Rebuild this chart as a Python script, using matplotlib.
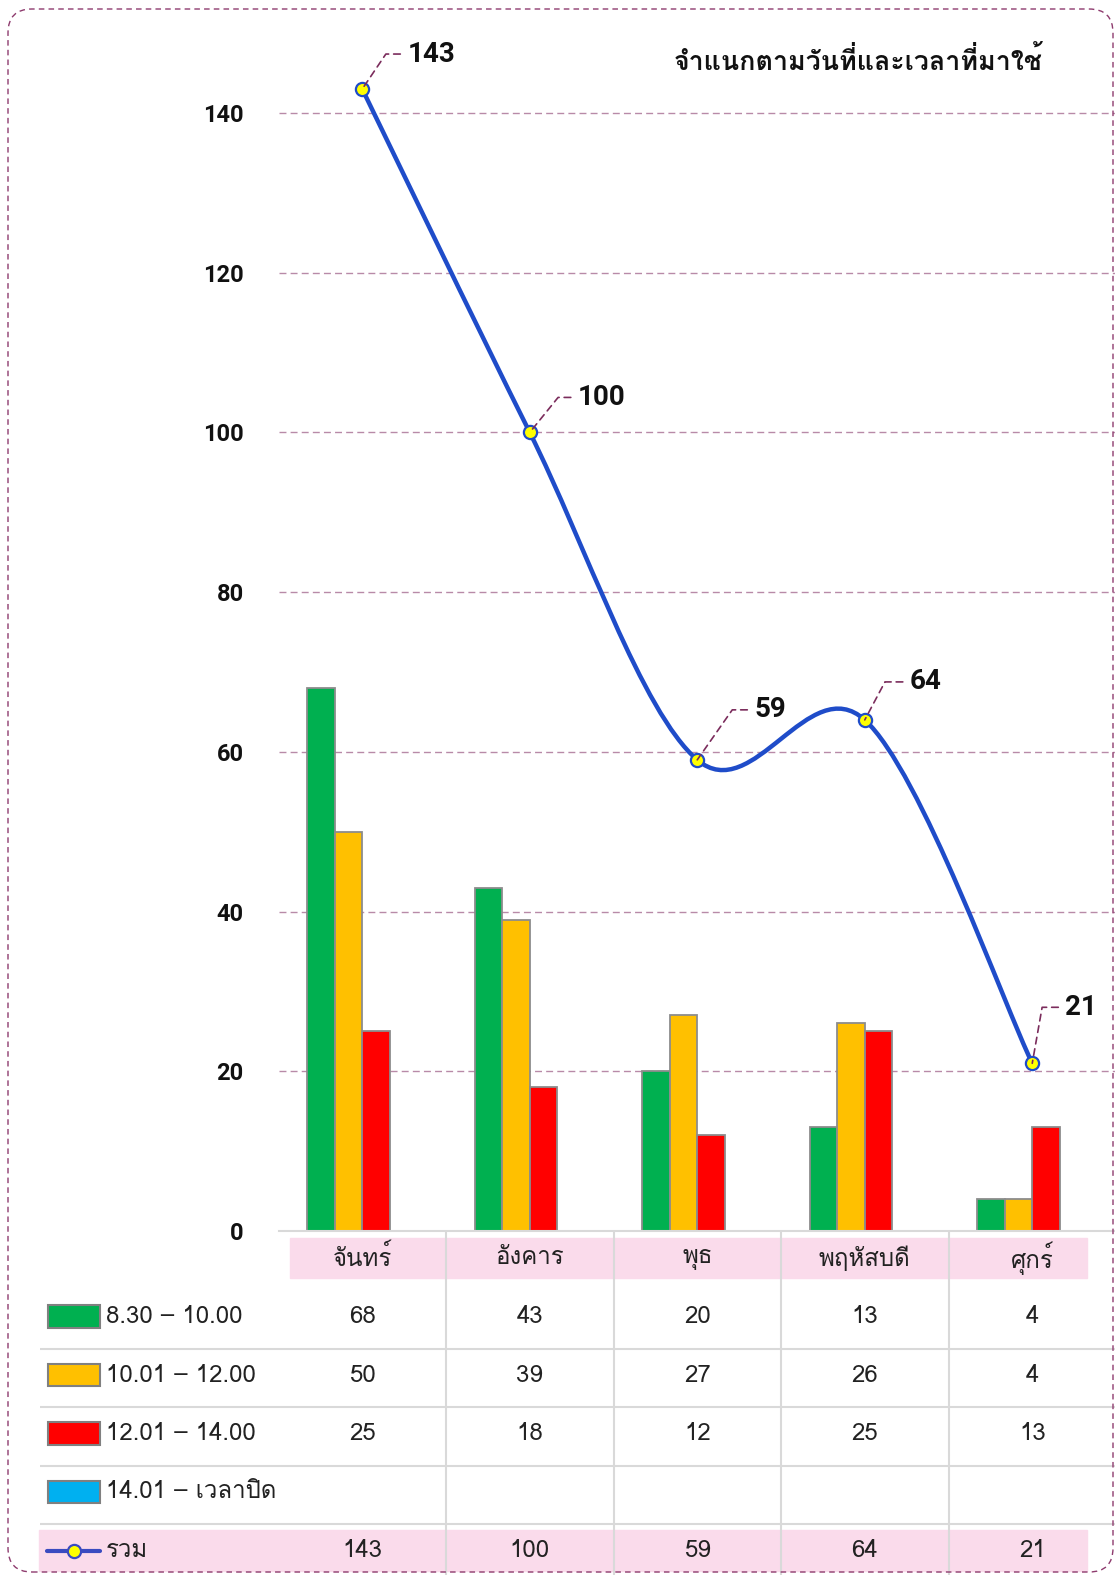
# usage by day and time slot, bar + smoothed total line with data table below
import numpy as np
import matplotlib
matplotlib.use('Agg')
import matplotlib.pyplot as plt
from matplotlib import font_manager
from matplotlib.ft2font import FT2Font
from matplotlib.path import Path
from matplotlib.patches import PathPatch, Rectangle, FancyBboxPatch
from matplotlib.transforms import IdentityTransform

# data
days = ['จันทร์', 'อังคาร', 'พุธ', 'พฤหัสบดี', 'ศุกร์']
slot_names = ['8.30 – 10.00', '10.01 – 12.00', '12.01 – 14.00', '14.01 – เวลาปิด']
slot_0830 = [68, 43, 20, 13, 4]
slot_1001 = [50, 39, 27, 26, 4]
slot_1201 = [25, 18, 12, 25, 13]
slot_1401 = [None, None, None, None, None]
total = [143, 100, 59, 64, 21]
total_name = 'รวม'
title = 'จำแนกตามวันที่และเวลาที่มาใช้'
yticks = [0, 20, 40, 60, 80, 100, 120, 140]

slot_colors = ['#00b050', '#ffc000', '#ff0000', '#00b0f0']
line_color = '#1f4cc9'
pink = '#fadbeb'
grid_color = '#b88aa8'
leader_color = '#7b2c5c'
table_line = '#d9d9d9'

# label offsets (px right, px up) and leader angle for the total labels
label_offsets = [(45, 35), (48, 35), (57, 50), (45, 38), (33, 56)]
leader_angles = [56, 51, 55, 62, 80]


def find_thai_font():
    for f in font_manager.fontManager.ttflist:
        try:
            if 0x0E08 in FT2Font(f.fname).get_charmap():
                return f.name
        except Exception:
            pass
    return 'DejaVu Sans'


thai = find_thai_font()
thai_fam = [thai, 'DejaVu Sans']
num_fam = ['Roboto', 'DejaVu Sans']


def smooth_path(xs, ys):
    # excel-like smoothed line: catmull-rom segments as cubic beziers
    pts = np.column_stack([xs, ys]).astype(float)
    n = len(pts)
    verts = [pts[0]]
    codes = [Path.MOVETO]
    for i in range(n - 1):
        p0 = pts[max(i - 1, 0)]
        p1 = pts[i]
        p2 = pts[i + 1]
        p3 = pts[min(i + 2, n - 1)]
        verts += [p1 + (p2 - p0) / 6, p2 - (p3 - p1) / 6, p2]
        codes += [Path.CURVE4] * 3
    return Path(verts, codes)


W, H = 1115, 1575
fig = plt.figure(figsize=(W / 100, H / 100), dpi=100)

# layout in pixels
base_px = 1231
cat_px = 167.5
left_px = 278.5
ymax = 150
unit_px = (1231 - 113) / 140
top_px = base_px - ymax * unit_px
x_hi = -0.5 + (W - left_px) / cat_px

ax = fig.add_axes([left_px / W, (H - base_px) / H, (W - left_px) / W, (base_px - top_px) / H])
ax.set_xlim(-0.5, x_hi)
ax.set_ylim(0, ymax)
for s in ['top', 'right', 'left']:
    ax.spines[s].set_visible(False)
ax.spines['bottom'].set_color(table_line)
ax.spines['bottom'].set_linewidth(1.5)
ax.set_xticks([])
ax.set_yticks(yticks)
ax.set_yticklabels([str(t) for t in yticks], family=num_fam, fontsize=17, fontweight='semibold', color='#111111')
ax.tick_params(axis='y', length=0, pad=25)
for t in yticks[1:]:
    ax.axhline(t, color=grid_color, lw=1, ls=(0, (5, 3)), zorder=1)

x = np.arange(len(days))
bw = 27.4 / cat_px
series = [slot_0830, slot_1001, slot_1201, slot_1401]
for k, vals in enumerate(series):
    v = np.array([np.nan if a is None else a for a in vals], dtype=float)
    ax.bar(x + (k - 1.5) * bw, v, width=bw, color=slot_colors[k], edgecolor='#8c8c8c', lw=1.3, zorder=2)

ax.add_patch(PathPatch(smooth_path(x, total), fill=False, edgecolor=line_color, lw=3.2, zorder=3, capstyle='round'))
ax.plot(x, total, ls='none', marker='o', ms=9.5, mfc='#ffff00', mec=line_color, mew=1.6, zorder=4, clip_on=False)

for i, v in enumerate(total):
    dx, dy = label_offsets[i]
    ax.annotate(str(v), xy=(x[i], v), xytext=(dx, dy), textcoords='offset pixels',
                ha='left', va='center', family=num_fam, fontsize=20, fontweight='bold', color='#111111',
                annotation_clip=False, zorder=5,
                arrowprops=dict(arrowstyle='-', color=leader_color, lw=1.2, ls=(0, (4, 3)),
                                connectionstyle='angle,angleA=0,angleB=%d,rad=0' % leader_angles[i],
                                relpos=(0, 0.5), shrinkA=3, shrinkB=0))

fig.text(1043 / W, 1 - 61 / H, title, ha='right', va='center', family=thai_fam, fontsize=19.3, fontweight='bold', color='#111111')

# data table
row0_px = 1316.5
row_px = 58.5
tax = fig.add_axes([0, 0, 1, (H - base_px) / H], zorder=0)
tax.axis('off')
tax.set_xlim(-0.5 - left_px / cat_px, x_hi)
tax.set_ylim((H - row0_px) / row_px, (base_px - row0_px) / row_px)


def px_x(p):
    return (p - left_px) / cat_px - 0.5


tax.add_patch(Rectangle((px_x(290), -1.35), px_x(1087) - px_x(290), 0.70, color=pink, zorder=0))
tax.add_patch(Rectangle((px_x(39), 3.65), px_x(1087) - px_x(39), 0.70, color=pink, zorder=0))
tax.vlines(x[:-1] + 0.5, -1.45, 5, color=table_line, lw=1.5, zorder=1)
tax.hlines(np.arange(4) + 0.55, px_x(40), x_hi, color=table_line, lw=1.5, zorder=1)

fs_tab = 17.3
txt = dict(ha='center', va='center', family=thai_fam, fontsize=fs_tab, color='#222222')
for i, d in enumerate(days):
    tax.text(x[i], -1, d, **txt)
for r, vals in enumerate(series + [total]):
    for i, v in enumerate(vals):
        if v is not None:
            tax.text(x[i], r, str(v), **txt)

for r, name in enumerate(slot_names):
    tax.add_patch(Rectangle((px_x(48), r - 0.19), px_x(100) - px_x(48), 0.38,
                            facecolor=slot_colors[r], edgecolor='#808080', lw=1.5, zorder=2))
    tax.text(px_x(106), r, name, ha='left', va='center', family=thai_fam, fontsize=fs_tab, color='#222222')
tax.plot([px_x(47), px_x(100)], [4, 4], color='#3a4bc0', lw=3, solid_capstyle='round', zorder=2)
tax.plot([px_x(74)], [4], marker='o', ms=9.5, mfc='#ffff00', mec='#3a4bc0', mew=1.6, zorder=3)
tax.text(px_x(106), 4, total_name, ha='left', va='center', family=thai_fam, fontsize=fs_tab, color='#222222')

# dashed rounded frame
fig.add_artist(FancyBboxPatch((8, 3), 1105, 1563, boxstyle='round,pad=0,rounding_size=24',
                              transform=IdentityTransform(), fill=False, edgecolor='#8e3b6e',
                              lw=1, ls=(0, (4, 3))))

fig.savefig('out.png', dpi=100)
